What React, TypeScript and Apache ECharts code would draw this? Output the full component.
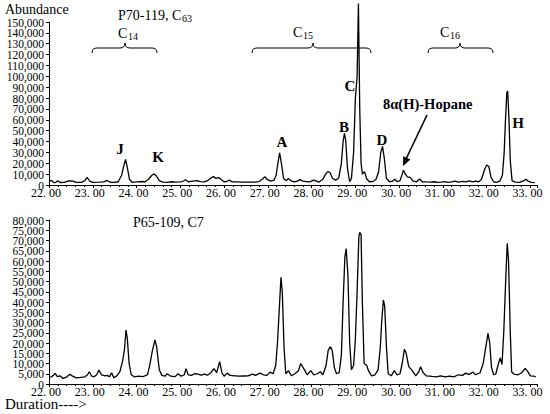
import React, { useEffect, useRef } from "react";
import * as echarts from "echarts";

// Retention time (min) vs abundance
const upperTrace: [number, number][] = [
  [22.0, 2500], [22.05, 4500], [22.1, 2500], [22.15, 2200], [22.2, 4000], [22.25, 2300],
  [22.35, 2500], [22.45, 3800], [22.55, 3600], [22.62, 2500], [22.75, 2500], [22.82, 4000],
  [22.87, 7000], [22.93, 3500], [23.0, 2500], [23.15, 2600], [23.25, 2800], [23.33, 4200],
  [23.4, 2500], [23.5, 2400], [23.58, 3000], [23.66, 9000], [23.71, 18000], [23.75, 23500],
  [23.79, 16000], [23.84, 5000], [23.9, 2500], [24.0, 2800], [24.1, 3200], [24.2, 3000],
  [24.28, 5500], [24.35, 9000], [24.4, 10200], [24.45, 8500], [24.52, 4000], [24.6, 2700],
  [24.7, 2500], [24.8, 3000], [24.88, 2600], [24.98, 2800], [25.05, 3200], [25.12, 4800],
  [25.18, 3000], [25.28, 3600], [25.38, 4000], [25.46, 3200], [25.55, 2800], [25.62, 4000],
  [25.7, 6500], [25.76, 7700], [25.82, 6000], [25.88, 6800], [25.94, 4800], [26.0, 3000],
  [26.06, 3200], [26.12, 4500], [26.18, 2900], [26.3, 2800], [26.4, 2700], [26.55, 2600],
  [26.7, 2700], [26.8, 3200], [26.88, 5500], [26.93, 7600], [26.99, 5000], [27.07, 3500],
  [27.14, 4500], [27.19, 9000], [27.23, 20000], [27.27, 29500], [27.31, 20000], [27.36, 6000],
  [27.42, 4000], [27.47, 6000], [27.52, 4000], [27.6, 2800], [27.68, 3500], [27.73, 5000],
  [27.8, 3500], [27.88, 3200], [27.96, 2800], [28.04, 4500], [28.1, 3800], [28.17, 2700],
  [28.25, 5000], [28.32, 10000], [28.37, 12300], [28.42, 11500], [28.48, 6000], [28.55, 4500],
  [28.62, 6500], [28.68, 20000], [28.72, 40000], [28.75, 47500], [28.78, 41000], [28.82, 15000],
  [28.87, 3000], [28.91, 6000], [28.96, 30000], [29.0, 80000], [29.04, 100000], [29.07, 167000],
  [29.1, 70000], [29.13, 20000], [29.16, 10000], [29.21, 12300], [29.26, 5500], [29.32, 3000],
  [29.4, 3200], [29.47, 5000], [29.53, 12000], [29.58, 30000], [29.62, 35500], [29.66, 25000],
  [29.71, 6000], [29.78, 3000], [29.85, 3500], [29.9, 5300], [29.96, 3000], [30.02, 4000],
  [30.07, 10000], [30.1, 13500], [30.14, 10000], [30.19, 7500], [30.25, 7000], [30.32, 3500],
  [30.4, 3000], [30.47, 5500], [30.53, 3000], [30.62, 2800], [30.72, 2600], [30.8, 3000],
  [30.88, 2500], [30.97, 2700], [31.04, 3200], [31.12, 2500], [31.2, 2800], [31.28, 3600],
  [31.35, 2600], [31.45, 3300], [31.52, 2900], [31.6, 3800], [31.68, 2800], [31.75, 3500],
  [31.82, 3000], [31.88, 5000], [31.95, 14000], [32.0, 18500], [32.05, 17000], [32.1, 7000],
  [32.16, 3000], [32.22, 2500], [32.3, 3500], [32.36, 9000], [32.4, 30000], [32.43, 60000],
  [32.46, 85000], [32.48, 86500], [32.51, 60000], [32.54, 22000], [32.58, 4000], [32.65, 2600],
  [32.75, 2500], [32.85, 4000], [32.9, 5300], [32.95, 3500], [33.02, 2500], [33.1, 2200],
];

const lowerTrace: [number, number][] = [
  [22.0, 3200], [22.06, 3600], [22.1, 4200], [22.14, 5200], [22.19, 3600], [22.25, 4000],
  [22.32, 2700], [22.4, 3400], [22.48, 4800], [22.54, 3800], [22.62, 3000], [22.72, 3200],
  [22.82, 3500], [22.88, 4500], [22.92, 6000], [22.97, 4000], [23.03, 3500], [23.09, 4500],
  [23.14, 6800], [23.2, 4500], [23.28, 4000], [23.33, 4200], [23.38, 3500], [23.43, 5500],
  [23.48, 3000], [23.55, 4000], [23.62, 6000], [23.68, 11000], [23.72, 16000], [23.76, 26300],
  [23.79, 22000], [23.83, 10000], [23.88, 4500], [23.95, 3500], [24.05, 3800], [24.15, 3600],
  [24.25, 4500], [24.3, 9000], [24.36, 16000], [24.42, 21500], [24.46, 18000], [24.52, 7000],
  [24.58, 4200], [24.65, 3800], [24.7, 5000], [24.78, 3800], [24.88, 3600], [24.95, 5000],
  [25.02, 3800], [25.09, 4500], [25.13, 7500], [25.18, 4500], [25.25, 4200], [25.33, 5000],
  [25.4, 4800], [25.48, 4300], [25.55, 4800], [25.62, 4300], [25.7, 5500], [25.77, 7500],
  [25.83, 5500], [25.9, 10900], [25.95, 5500], [26.0, 3800], [26.07, 5300], [26.14, 4200],
  [26.25, 4000], [26.35, 3800], [26.45, 3900], [26.55, 4000], [26.65, 4800], [26.72, 4200],
  [26.82, 5300], [26.9, 4500], [26.98, 4200], [27.05, 5800], [27.12, 5000], [27.18, 9000],
  [27.22, 20000], [27.26, 36000], [27.3, 52000], [27.33, 45000], [27.37, 18000], [27.41, 5000],
  [27.47, 6500], [27.54, 4000], [27.62, 5000], [27.7, 6500], [27.75, 10000], [27.82, 7500],
  [27.9, 4500], [27.98, 6500], [28.05, 4500], [28.13, 5000], [28.2, 6000], [28.26, 4500],
  [28.33, 9000], [28.38, 16500], [28.43, 18200], [28.47, 16500], [28.52, 8000], [28.57, 5000],
  [28.63, 5500], [28.68, 14000], [28.72, 40000], [28.76, 62000], [28.79, 66000], [28.83, 53000],
  [28.87, 20000], [28.91, 7000], [28.96, 9000], [29.0, 22000], [29.04, 45000], [29.08, 72000],
  [29.1, 74000], [29.13, 73000], [29.16, 40000], [29.2, 10000], [29.26, 9000], [29.3, 6500],
  [29.37, 4000], [29.45, 4500], [29.52, 7000], [29.57, 18000], [29.6, 30000], [29.64, 41000],
  [29.67, 38000], [29.71, 18000], [29.75, 5000], [29.82, 4000], [29.89, 6500], [29.95, 4500],
  [30.02, 5000], [30.07, 10000], [30.12, 17000], [30.16, 15000], [30.22, 8500], [30.3, 6500],
  [30.38, 4000], [30.45, 6000], [30.49, 8400], [30.55, 5500], [30.62, 4000], [30.75, 3700],
  [30.85, 3500], [30.95, 4000], [31.05, 3500], [31.15, 3800], [31.25, 3500], [31.35, 4500],
  [31.45, 4200], [31.52, 5300], [31.6, 4600], [31.68, 5800], [31.75, 4500], [31.85, 5500],
  [31.92, 10000], [31.98, 18000], [32.03, 24700], [32.07, 20000], [32.11, 8000], [32.16, 4500],
  [32.21, 5000], [32.27, 10000], [32.31, 12700], [32.35, 9500], [32.39, 25000], [32.43, 48000],
  [32.47, 68600], [32.5, 60000], [32.54, 25000], [32.57, 6000], [32.62, 4800], [32.72, 4500],
  [32.8, 5500], [32.88, 7600], [32.94, 6000], [33.0, 4000], [33.08, 3800], [33.12, 3400],
];

const xRange = [22, 33.15];
const upperYRange = [0, 150000, 10000];
const lowerYRange = [0, 80000, 5000];

const SERIF = "'Liberation Serif', 'Times New Roman', serif";

function brace(x1: number, xm: number, x2: number, y: number, r = 5) {
  const st = { stroke: "#000", lineWidth: 1, fill: "none" };
  return [
    { type: "bezierCurve", shape: { x1: x1, y1: y + r, cpx1: x1, cpy1: y, x2: x1 + r, y2: y }, style: st },
    { type: "line", shape: { x1: x1 + r, y1: y, x2: xm - r, y2: y }, style: st },
    { type: "bezierCurve", shape: { x1: xm - r, y1: y, cpx1: xm, cpy1: y, x2: xm, y2: y - r }, style: st },
    { type: "bezierCurve", shape: { x1: xm, y1: y - r, cpx1: xm, cpy1: y, x2: xm + r, y2: y }, style: st },
    { type: "line", shape: { x1: xm + r, y1: y, x2: x2 - r, y2: y }, style: st },
    { type: "bezierCurve", shape: { x1: x2 - r, y1: y, cpx1: x2, cpy1: y, x2: x2, y2: y + r }, style: st },
  ];
}

function txt(text: string, x: number, y: number, size: number, bold = false, align = "left") {
  return {
    type: "text",
    x,
    y,
    style: {
      text,
      fill: "#000",
      font: `${bold ? "bold " : ""}${size}px ${SERIF}`,
      textAlign: align,
      textVerticalAlign: "middle",
    },
  };
}

function xAxisCfg(gridIndex: number) {
  return {
    type: "value",
    gridIndex,
    min: xRange[0],
    max: xRange[1],
    interval: 1,
    axisLine: { show: true, onZero: false, lineStyle: { color: "#000", width: 1 } },
    axisTick: { show: true, length: 3, lineStyle: { color: "#000" } },
    minorTick: { show: true, splitNumber: 5, length: 2, lineStyle: { color: "#000" } },
    splitLine: { show: false },
    axisLabel: {
      color: "#000",
      fontFamily: SERIF,
      fontSize: 12,
      margin: 2,
      padding: [0, 6, 0, 0],
      formatter: (v: number) => (Math.abs(v - Math.round(v)) < 1e-6 ? v.toFixed(2).replace(".", ". ") : ""),
    },
  };
}

function yAxisCfg(gridIndex: number, range: number[]) {
  return {
    type: "value",
    gridIndex,
    min: range[0],
    max: range[1],
    interval: range[2],
    axisLine: { show: true, lineStyle: { color: "#000", width: 1 } },
    axisTick: { show: true, length: 3, lineStyle: { color: "#000" } },
    splitLine: { show: false },
    axisLabel: { show: false },
  };
}

export default function App() {
  const ref = useRef<HTMLDivElement>(null);
  useEffect(() => {
    if (!ref.current) return;
    const chart = echarts.init(ref.current, null, { renderer: "svg" });
    const arrowLine = { stroke: "#000", lineWidth: 1.6 };
    chart.setOption({
      animation: false,
      backgroundColor: "#fff",
      grid: [
        { left: 49, top: 22, width: 488, height: 163 },
        { left: 49, top: 220, width: 488, height: 164 },
      ],
      xAxis: [xAxisCfg(0), xAxisCfg(1)],
      yAxis: [yAxisCfg(0, upperYRange), yAxisCfg(1, lowerYRange)],
      series: [
        {
          type: "line",
          xAxisIndex: 0,
          yAxisIndex: 0,
          data: upperTrace,
          showSymbol: false,
          clip: false,
          lineStyle: { color: "#000", width: 1.3 },
        },
        {
          type: "line",
          xAxisIndex: 1,
          yAxisIndex: 1,
          data: lowerTrace,
          showSymbol: false,
          clip: false,
          lineStyle: { color: "#000", width: 1.3 },
        },
      ],
    });

    // y-axis tick labels, placed through the axes' own scales (kept all, as in the reference)
    const yLabels: any[] = [];
    [upperYRange, lowerYRange].forEach((range, gi) => {
      for (let v = range[0]; v <= range[1]; v += range[2]) {
        const p = chart.convertToPixel({ gridIndex: gi }, [xRange[0], v]) as number[];
        yLabels.push({
          type: "text",
          x: p[0] - 5,
          y: p[1] + 0.5,
          style: {
            text: v.toLocaleString("en-US"),
            fill: "#000",
            font: `11.5px ${SERIF}`,
            textAlign: "right",
            textVerticalAlign: "middle",
          },
        });
      }
    });

    chart.setOption({
      graphic: [
        ...yLabels,
        txt("Abundance", 5, 9, 14),
        txt("P70-119, C", 118, 15, 14),
        txt("63", 182, 18, 10),
        txt("C", 118, 33, 14),
        txt("14", 128, 36, 10),
        txt("C", 293, 32, 14),
        txt("15", 303, 35, 10),
        txt("C", 440, 32, 14),
        txt("16", 450, 35, 10),
        ...brace(92, 125, 157, 48),
        ...brace(252, 313, 371, 48),
        ...brace(428, 460, 493, 48),
        txt("J", 120, 149, 15, true, "center"),
        txt("K", 158, 157, 15, true, "center"),
        txt("A", 282, 142, 15, true, "center"),
        txt("B", 344, 127, 15, true, "center"),
        txt("C", 350, 86, 15, true, "center"),
        txt("D", 382, 140, 15, true, "center"),
        txt("H", 518, 123, 15, true, "center"),
        txt("8α(H)-Hopane", 383, 104, 14.5, true),
        { type: "line", shape: { x1: 427, y1: 115, x2: 406.5, y2: 158 }, style: arrowLine },
        {
          type: "polygon",
          shape: { points: [[403, 166], [410.4, 159.6], [403.2, 156.2]] },
          style: { fill: "#000" },
        },
        txt("P65-109, C7", 133, 222, 14),
        txt("Duration---->", 5, 404, 15),
      ],
    });
    return () => chart.dispose();
  }, []);
  return (
    <div
      ref={ref}
      style={{ position: "fixed", left: 0, top: 0, width: 550, height: 414, background: "#fff" }}
    />
  );
}
